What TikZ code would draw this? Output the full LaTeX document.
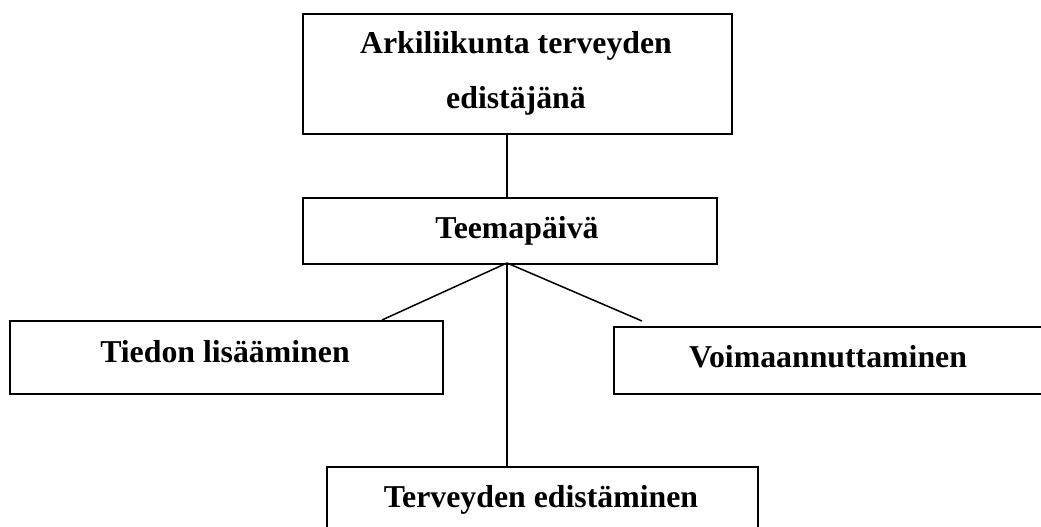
\documentclass[tikz,border=0pt]{standalone}
\usepackage{fontspec}
\setmainfont{Liberation Serif}
\begin{document}
\begin{tikzpicture}[x=1pt,y=-1pt,
  box/.style={draw,line width=2pt,inner sep=0pt,anchor=north west},
  lbl/.style={anchor=base,inner sep=0pt,font=\fontsize{31.8}{38}\selectfont\bfseries},
  link/.style={line width=1.5pt}]
\useasboundingbox (0,0) rectangle (1041,527);
% boxes
\node[box,minimum width=429pt,minimum height=120pt] (top) at (302,13) {};
\node[box,minimum width=414pt,minimum height=66pt] (teema) at (302,197) {};
\node[box,minimum width=433pt,minimum height=73pt] (tieto) at (9,320) {};
\node[box,minimum width=440pt,minimum height=67pt] (voima) at (613,326) {};
\node[box,minimum width=431pt,minimum height=80pt] (terveys) at (326,466) {};
% labels
\node[lbl] (t1) at (516,53) {Arkiliikunta terveyden};
\node[lbl] (t2) at (516,108) {edistäjänä};
\node[lbl] (t3) at (517,238) {Teemapäivä};
\node[lbl] (t4) at (225,362) {Tiedon lisääminen};
\node[lbl] (t5) at (828,367) {Voimaannuttaminen};
\node[lbl] (t6) at (541,507) {Terveyden edistäminen};
% connectors
\coordinate (hub) at (507,263);
\coordinate (vtip) at (642,321);
\draw[link] (top.south west -| hub) -- (teema.north west -| hub);
\draw[link] (hub) -- (tieto.north west -| 382,0);
\draw[link] (hub) -- (vtip);
\draw[link] (hub) -- (terveys.north west -| hub);
\end{tikzpicture}
\end{document}
